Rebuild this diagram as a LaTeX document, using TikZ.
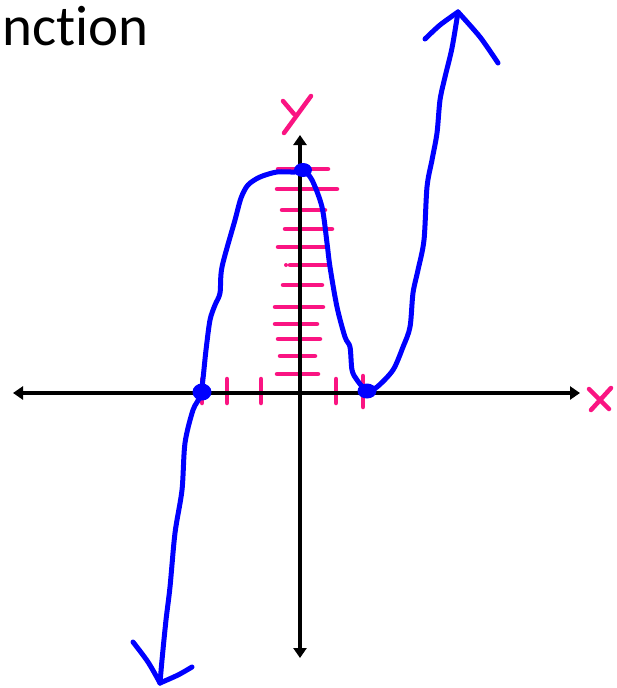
\documentclass[tikz,border=0pt]{standalone}
\usepackage{fontspec}
\setmainfont{Carlito}[Ligatures=NoCommon]
\usetikzlibrary{arrows.meta}
\definecolor{pen}{RGB}{0,0,255}
\definecolor{hl}{RGB}{250,20,130}
\tikzset{
  curve/.style={draw=pen,line width=5pt,line cap=round,line join=round},
  pinkline/.style={draw=hl,line width=4.5pt,line cap=round},
  axis/.style={draw=black,line width=3.5pt,{Triangle[length=10pt,width=13pt]}-{Triangle[length=10pt,width=13pt]}},
  dot/.style={fill=pen}
}
\begin{document}
\begin{tikzpicture}[x=1pt,y=-1pt]
\useasboundingbox (0,0) rectangle (617,688);
\node[anchor=base west,inner sep=0pt,font=\fontsize{57}{57}\selectfont] (title) at (2,45) {nct\kern0pt ion};
% pink dashes on y-axis
\foreach \a/\b/\y in {278/328/169,277/337/189,282/325/210,285/332/229,278/327/247,290/327/265,283/322/285,275/323/307,275/317/324,278/320/339,280/315/356,277/318/374}
  \draw[pinkline] (\a,\y) -- (\b,\y);
\fill[hl] (286,265) circle (2pt);
% pink ticks on x-axis
\foreach \x in {202,227,261,336}
  \draw[pinkline] (\x,379) -- (\x,403);
\draw[pinkline] (363,376) -- (363,407);
% labels
\draw[pinkline] (283,101) -- (294,114);
\draw[pinkline] (311,96) -- (284,133);
\draw[pinkline] (589,389) -- (609,409);
\draw[pinkline] (611,388) -- (591,410);
% axes
\coordinate (xl) at (13,393);
\coordinate (xr) at (580,393);
\coordinate (yt) at (300,135);
\coordinate (yb) at (300,658);
\draw[axis] (xl) -- (xr);
\draw[axis] (yb) -- (yt);
% blue curve
\draw[curve] plot[smooth,tension=0.5] coordinates {
(160,683) (162,660) (166,620) (170,587) (175,533) (182,490) (185,443) (193,410) (201,393) (206,350) (210,320) (215,305) (220,293) (222,267) (235,220) (241,198) (248,185) (260,177) (277,172) (295,172) (303,170) (312,180) (322,207) (327,243) (330,267) (337,307) (345,337) (350,347) (352,370) (357,380) (367,391) (377,387) (393,370) (403,347) (410,327) (413,293) (418,270) (424,240) (427,187) (432,160) (437,133) (440,100) (445,77) (452,48) (458,12)};
\draw[curve] plot[smooth,tension=0.5] coordinates {(425,39) (440,25) (458,12)};
\draw[curve] plot[smooth,tension=0.5] coordinates {(458,12) (480,37) (498,63)};
\draw[curve] plot[smooth,tension=0.5] coordinates {(133,642) (148,662) (160,683)};
\draw[curve] plot[smooth,tension=0.5] coordinates {(160,683) (178,675) (192,667)};
% dots
\fill[dot] (202,392) ellipse (9.5pt and 8.5pt);
\fill[dot] (303,170) ellipse (9pt and 7pt);
\fill[dot] (367,391) ellipse (9.5pt and 7.5pt);
\end{tikzpicture}
\end{document}
